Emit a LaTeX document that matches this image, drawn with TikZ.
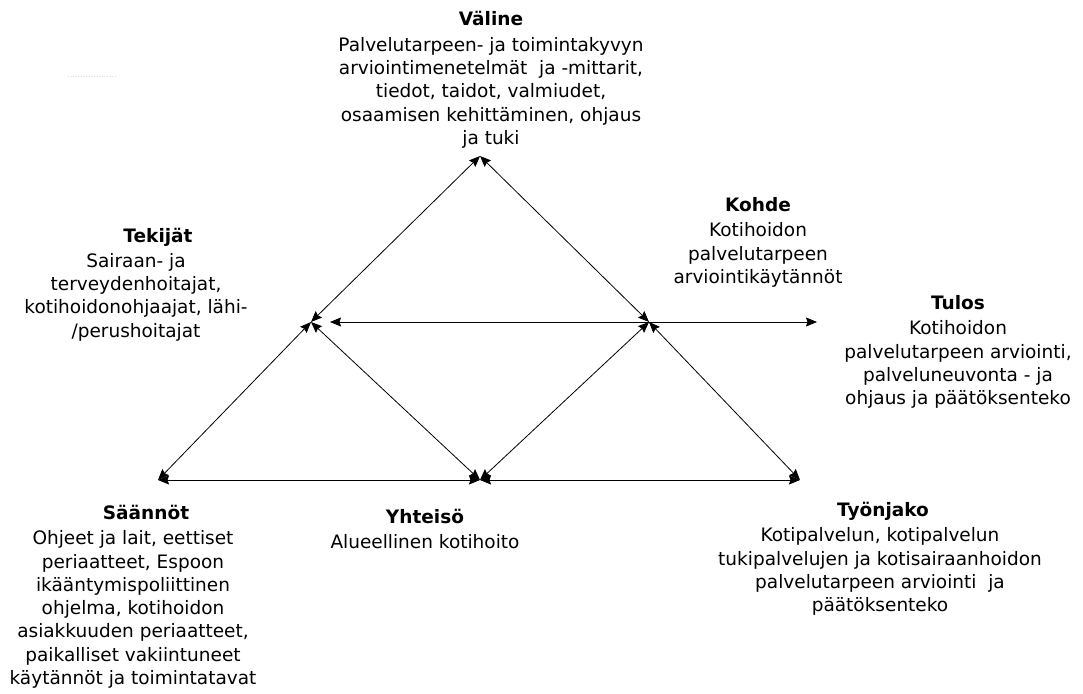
\documentclass[tikz,border=0pt]{standalone}
\usepackage{fontspec}
\setmainfont{DejaVu Sans}
\usetikzlibrary{arrows.meta}
\begin{document}
\begin{tikzpicture}[x=1pt,y=-1pt,
  conn/.style={draw=black, line width=0.8pt, {Stealth[length=11pt,width=9pt,inset=1.5pt]}-{Stealth[length=11pt,width=9pt,inset=1.5pt]}},
  ttl/.style={font=\fontsize{18.5}{23.3}\selectfont\bfseries, inner sep=0pt, anchor=base},
  body/.style={font=\fontsize{18.5}{23.3}\selectfont, inner sep=0pt, anchor=north, align=center}]
\useasboundingbox (0,0) rectangle (1083,693);

% corner points
\coordinate (T)  at (480,156);
\coordinate (L)  at (311,322);
\coordinate (R)  at (649,322);
\coordinate (BL) at (158,480);
\coordinate (BM) at (480,480);
\coordinate (BR) at (800,480);
\coordinate (HL) at (330,322);
\coordinate (HR) at (817,322);

% connectors
\draw[conn] (T) -- (L);
\draw[conn] (T) -- (R);
\draw[conn] (L) -- (BL);
\draw[conn] (L) -- (BM);
\draw[conn] (R) -- (BM);
\draw[conn] (R) -- (BR);
\draw[conn] (BL) -- (BM);
\draw[conn] (BM) -- (BR);
\draw[conn] (HL) -- (HR);

% faint dots
\coordinate (d1) at (68,76);
\coordinate (d2) at (116,76);
\draw[gray!25, dotted, line width=0.6pt] (d1) -- (d2);

% Väline
\node[ttl] (valT) at (491,26) {Väline};
\node[body] (valB) at (491,37) {Palvelutarpeen- ja toimintakyvyn\\arviointimenetelmät\ \ ja -mittarit,\\tiedot, taidot, valmiudet,\\osaamisen kehittäminen, ohjaus\\ja tuki};

% Kohde
\node[ttl] (kohT) at (758,211) {Kohde};
\node[body] (kohB) at (758,222.5) {Kotihoidon\\palvelutarpeen\\arviointikäytännöt};

% Tulos
\node[ttl] (tulT) at (958,309) {Tulos};
\node[body] (tulB) at (958,320.5) {Kotihoidon\\palvelutarpeen arviointi,\\palveluneuvonta - ja\\ohjaus ja päätöksenteko};

% Tekijät
\node[ttl] (tekT) at (158,242) {Tekijät};
\node[body] (tekB) at (136,253) {Sairaan- ja\\terveydenhoitajat,\\kotihoidonohjaajat, lähi-\\/perushoitajat};

% Säännöt
\node[ttl] (saaT) at (146,519) {Säännöt};
\node[body] (saaB) at (133,530.5) {Ohjeet ja lait, eettiset\\periaatteet, Espoon\\ikääntymispoliittinen\\ohjelma, kotihoidon\\asiakkuuden periaatteet,\\paikalliset vakiintuneet\\käytännöt ja toimintatavat};

% Yhteisö
\node[ttl] (yhtT) at (425,523) {Yhteisö};
\node[body] (yhtB) at (425,534) {Alueellinen kotihoito};

% Työnjako
\node[ttl] (tyoT) at (883,516) {Työnjako};
\node[body] (tyoB) at (880,527.5) {Kotipalvelun, kotipalvelun\\tukipalvelujen ja kotisairaanhoidon\\palvelutarpeen arviointi\ \ ja\\päätöksenteko};
\end{tikzpicture}
\end{document}
